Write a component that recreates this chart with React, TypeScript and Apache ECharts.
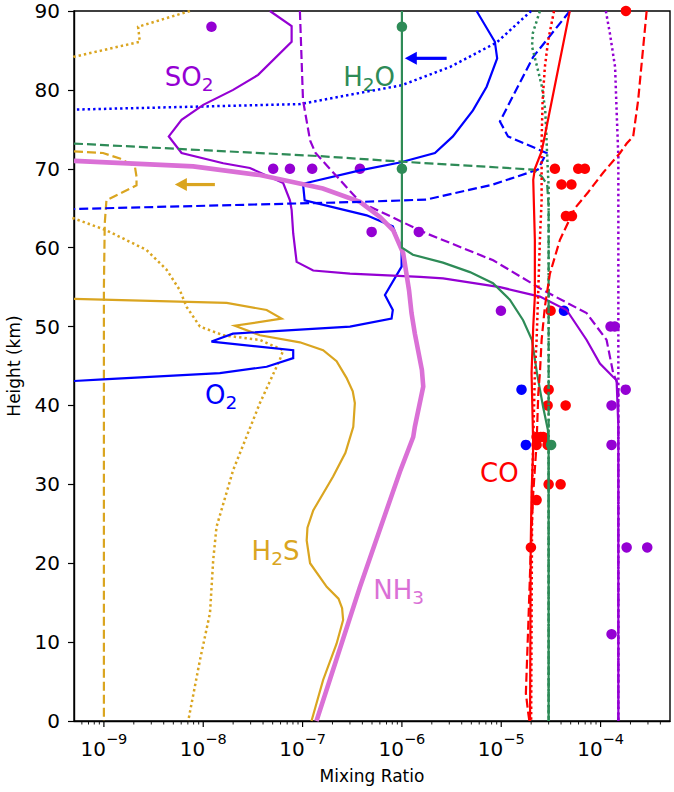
import React, { useEffect, useRef } from "react";
import * as echarts from "echarts";

type Pt = [number, number];

// ---------- data (mixing ratio, height km) ----------
const H2O_SOLID: Pt[] = [[1e-6, 90], [1e-6, 60], [1.29e-6, 59.1], [2.59e-6, 58.1], [4.84e-6, 56.9], [8.26e-6, 55.5], [1.22e-5, 53.4], [1.66e-5, 50.8], [2.04e-5, 48.3], [2.29e-5, 44.1], [2.64e-5, 39.8], [2.95e-5, 36.9], [3.0e-5, 34.7], [3.0e-5, 0]];
const H2O_DASHED: Pt[] = [[5e-10, 73.2], [1.5e-7, 71.6], [1.0e-6, 70.9], [2.09e-5, 69.9], [2.57e-5, 69.0], [2.9e-5, 68.0], [3.0e-5, 65.2], [3.0e-5, 0]];
const H2O_DOTTED: Pt[] = [[2.45e-5, 90], [2.08e-5, 87.2], [2.04e-5, 85.5], [2.29e-5, 83.0], [2.57e-5, 80.4], [2.77e-5, 77.5], [2.84e-5, 74.6], [2.9e-5, 71.6], [3.0e-5, 67.7], [3.0e-5, 0]];
const H2O_OBS: Pt[] = [[1e-6, 88], [1e-6, 70], [3.18e-5, 35]];

const O2_SOLID: Pt[] = [[5.65e-6, 90], [8.63e-6, 86.1], [9.1e-6, 84.0], [7.13e-6, 80.4], [5.19e-6, 77.4], [3.26e-6, 74.1], [2.15e-6, 72.0], [9.55e-7, 70.8], [3.78e-7, 69.8], [1.01e-7, 68.1], [1.05e-7, 66.0], [4.42e-7, 64.1], [8.1e-7, 62.7], [9.93e-7, 59.7], [9.93e-7, 57.6], [6.75e-7, 54.0], [8.1e-7, 52.1], [7.87e-7, 51.0], [3.0e-7, 50.0], [1.99e-8, 49.1], [1.21e-8, 48.1], [8.05e-8, 47.0], [8.05e-8, 46.0], [4.35e-8, 44.9], [1.47e-8, 44.1], [9.8e-10, 43.3], [5e-10, 43.1]];
const O2_DASHED: Pt[] = [[4.91e-5, 90], [2.1e-5, 84.2], [9.7e-6, 76.0], [1.17e-5, 74.1], [2.86e-5, 72.0], [2.34e-5, 69.9], [8.24e-6, 68.0], [1.77e-6, 66.1], [3.78e-7, 65.8], [5e-10, 64.9]];
const O2_DOTTED: Pt[] = [[2.0e-5, 90], [8.97e-6, 86.0], [3.04e-6, 82.9], [1.0e-6, 80.6], [9.4e-8, 78.2], [1.0e-8, 77.9], [5e-10, 77.5]];
const O2_OBS: Pt[] = [[4.28e-5, 52], [1.6e-5, 42], [1.77e-5, 35]];

const CO_SOLID: Pt[] = [[4.9e-5, 90], [2.86e-5, 75.3], [2.55e-5, 72.2], [2.18e-5, 70.0], [2.1e-5, 68.6], [2.18e-5, 61.0], [2.18e-5, 53.8], [2.1e-5, 50.0], [2.02e-5, 44.1], [2.1e-5, 34.8], [2.02e-5, 28.9], [1.98e-5, 22.0], [1.95e-5, 0]];
const CO_DASHED: Pt[] = [[2.91e-4, 90], [2.39e-4, 78.7], [2.13e-4, 74.1], [1.83e-4, 73.2], [1.57e-4, 72.0], [1.06e-4, 69.5], [7.46e-5, 67.0], [5.52e-5, 65.0], [3.9e-5, 61.0], [3.09e-5, 56.7], [2.75e-5, 52.5], [2.55e-5, 48.3], [2.45e-5, 44.1], [2.36e-5, 41.5], [2.27e-5, 35.2], [2.1e-5, 28.9], [1.99e-5, 22.1], [1.87e-5, 12.0], [1.77e-5, 3.5], [1.87e-5, 1.0], [1.92e-5, 0]];
const CO_DOTTED: Pt[] = [[3.4e-5, 90], [2.97e-5, 86.3], [2.75e-5, 82.9], [2.61e-5, 78.7], [2.55e-5, 73.6], [2.55e-5, 66.0], [2.45e-5, 61.0], [2.36e-5, 54.6], [2.27e-5, 48.3], [2.18e-5, 44.1], [2.05e-5, 30], [2.0e-5, 0]];
const CO_OBS: Pt[] = [[1.8e-4, 90], [3.47e-5, 70], [5.96e-5, 70], [6.95e-5, 70], [4.04e-5, 68], [5.09e-5, 68], [4.48e-5, 64], [5.15e-5, 64], [3.14e-5, 52], [3.0e-5, 42], [2.93e-5, 40], [4.45e-5, 40], [2.27e-5, 36], [2.5e-5, 36], [2.65e-5, 36], [2.27e-5, 35], [2.93e-5, 35], [3.0e-5, 30], [3.96e-5, 30], [2.27e-5, 28], [1.99e-5, 22]];

const SO2_SOLID: Pt[] = [[4.69e-8, 90], [7.76e-8, 88.1], [7.76e-8, 86.1], [3.57e-8, 81.9], [2.0e-8, 80.0], [1.0e-8, 78.1], [6.05e-9, 76.2], [4.5e-9, 74.1], [6.05e-9, 72.0], [1.59e-8, 70.7], [2.95e-8, 70.1], [6.38e-8, 68.2], [7.46e-8, 66.0], [7.76e-8, 64.8], [8.05e-8, 61.8], [8.71e-8, 58.2], [1.28e-7, 57.1], [3.0e-7, 56.7], [1.52e-6, 56.3], [2.6e-6, 56.1], [9.7e-6, 55.0], [2.45e-5, 53.8], [4.55e-5, 52.1], [7.24e-5, 48.3], [9.85e-5, 45.3], [1.34e-4, 43.6], [1.45e-4, 43.2], [1.51e-4, 37.3], [1.51e-4, 0]];
const SO2_DASHED: Pt[] = [[9.4e-8, 90], [1.01e-7, 78.7], [1.19e-7, 73.6], [1.35e-7, 72.0], [3.78e-7, 65.8], [1.77e-6, 61.8], [8.3e-6, 58.4], [2.65e-5, 54.6], [7.24e-5, 51.7], [1.15e-4, 48.3], [1.34e-4, 44.1], [1.51e-4, 42.5], [1.51e-4, 0]];
const SO2_DOTTED: Pt[] = [[1.13e-4, 90], [1.24e-4, 87.2], [1.4e-4, 82.9], [1.45e-4, 77.4], [1.51e-4, 71.5], [1.51e-4, 0]];
const SO2_OBS: Pt[] = [[1.21e-8, 88], [5.06e-8, 70], [7.46e-8, 70], [1.25e-7, 70], [3.78e-7, 70], [4.96e-7, 62], [1.48e-6, 62], [9.93e-6, 52], [1.26e-4, 50], [1.39e-4, 50], [1.79e-4, 42], [1.29e-4, 40], [1.29e-4, 35], [1.83e-4, 22], [2.95e-4, 22], [1.29e-4, 11]];

const H2S_SOLID: Pt[] = [[5e-10, 53.5], [1.72e-8, 53.0], [4.35e-8, 52.1], [6.15e-8, 51.0], [2.08e-8, 50.1], [3.72e-8, 48.9], [9.4e-8, 48.0], [1.61e-7, 47.0], [2.2e-7, 45.6], [2.77e-7, 43.5], [3.2e-7, 41.8], [3.36e-7, 40.3], [3.24e-7, 37.3], [2.7e-7, 34.0], [2.03e-7, 31.0], [1.28e-7, 26.7], [1.12e-7, 24.5], [1.1e-7, 22.9], [1.19e-7, 20.0], [1.75e-7, 17.0], [2.3e-7, 15.5], [2.5e-7, 14.3], [2.56e-7, 12.8], [2.2e-7, 9.8], [1.61e-7, 5.2], [1.23e-7, 0]];
const H2S_DASHED: Pt[] = [[5e-10, 72.2], [9.8e-10, 72.0], [1.45e-9, 71.3], [2.05e-9, 70.3], [2.13e-9, 69.0], [2.13e-9, 67.9], [1.06e-9, 66.0], [1.02e-9, 63.1], [1e-9, 55], [1e-9, 0]];
const H2S_DOTTED: Pt[] = [[7.34e-9, 90], [2.21e-9, 88.0], [2.3e-9, 86.1], [5e-10, 84.2], [1e-10, 80], [1e-10, 66], [5e-10, 63.7], [1.06e-9, 62.2], [2.69e-9, 59.7], [4.28e-9, 57.2], [5.82e-9, 54.6], [6.8e-9, 52.5], [9.26e-9, 50.0], [1.59e-8, 48.9], [3.72e-8, 48.3], [6.38e-8, 47.0], [5.9e-8, 45.8], [3.72e-8, 40.3], [2.0e-8, 31.8], [1.36e-8, 24.6], [1.26e-8, 20.4], [1.17e-8, 13.7], [9.26e-9, 7.7], [7.06e-9, 0]];

const NH3_SOLID: Pt[] = [[5e-10, 71.0], [7.93e-9, 70.3], [3.72e-8, 69.2], [1.6e-7, 67.5], [3.78e-7, 65.8], [6.01e-7, 63.9], [8.18e-7, 62.2], [1.03e-6, 59.3], [1.18e-6, 54.6], [1.25e-6, 51.7], [1.35e-6, 49.1], [1.59e-6, 44.5], [1.64e-6, 42.4], [1.35e-6, 37.3], [1.3e-6, 36.0], [9.55e-7, 31.6], [3.78e-7, 17.0], [1.38e-7, 0]];

// arrows: [tail x, height, head x]
const ARROWS: [number, number, number][] = [[2.82e-6, 84, 1.07e-6], [1.31e-8, 68, 5.18e-9]];
const ARROW_COLORS = ["#0000FF", "#DAA520"];

// annotations
const ANNO_MAIN = [["SO", "2", ""], ["H", "2", "O"], ["O", "2", ""], ["H", "2", "S"], ["NH", "3", ""], ["CO", "", ""]];
const ANNO_POS: Pt[] = [[4.1e-9, 81.4], [2.57e-7, 81.4], [1.04e-8, 41.1], [3.07e-8, 21.3], [5.15e-7, 16.4], [6.12e-6, 31.2]];
const ANNO_COLORS = ["#9400D3", "#2E8B57", "#0000FF", "#DAA520", "#DA70D6", "#FF0000"];

// axis
const X_MIN = 5e-10;
const X_MAX = 5e-4;
const DECADES = [1e-10, 1e-9, 1e-8, 1e-7, 1e-6, 1e-5, 1e-4];
const MINOR_MULTS = [2, 3, 4, 5, 6, 7, 8, 9];
const Y_MIN = 0;
const Y_MAX = 90;
const Y_STEP = 10;

const FONT = "DejaVu Sans";
const C = { so2: "#9400D3", h2o: "#2E8B57", o2: "#0000FF", co: "#FF0000", h2s: "#DAA520", nh3: "#DA70D6" };

const DASH = [9, 4];
const DOT = [2.4, 3];

function lineSeries(data: Pt[], color: string, kind: "solid" | "dashed" | "dotted", width = 2.2) {
  return {
    type: "line",
    data,
    symbol: "none",
    silent: true,
    clip: true,
    lineStyle: {
      color,
      width: kind === "dotted" ? 2.5 : width,
      type: kind === "solid" ? "solid" : kind === "dashed" ? DASH : DOT,
      cap: "butt",
      join: "miter",
    },
  };
}

function dots(data: Pt[], color: string) {
  return {
    type: "scatter",
    data,
    symbol: "circle",
    symbolSize: 10.5,
    silent: true,
    itemStyle: { color, opacity: 1 },
  };
}

export default function App() {
  const ref = useRef<HTMLDivElement>(null);
  useEffect(() => {
    if (!ref.current) return;
    const chart = echarts.init(ref.current, null, { renderer: "svg" });

    const tickVals: [number, number][] = [];
    DECADES.forEach((d) => {
      [1, ...MINOR_MULTS].forEach((m) => {
        const v = d * m;
        if (v > X_MIN * 1.0001 && v < X_MAX * 0.9999) tickVals.push([v, 0]);
      });
    });

    const option: any = {
      animation: false,
      backgroundColor: "#ffffff",
      grid: {
        left: 74, right: 4, top: 11, bottom: 71,
        containLabel: false,
        outerBoundsMode: "none",
        show: true, borderColor: "#000", borderWidth: 1.4, backgroundColor: "transparent",
      },
      xAxis: {
        type: "log",
        logBase: 10,
        min: X_MIN,
        max: X_MAX,
        name: "Mixing Ratio",
        nameLocation: "middle",
        nameGap: 46,
        nameTextStyle: { fontFamily: FONT, fontSize: 17, color: "#000" },
        axisLine: { show: true, lineStyle: { color: "#000", width: 1.4 } },
        axisTick: { show: false },
        minorTick: { show: false },
        splitLine: { show: false },
        minorSplitLine: { show: false },
        axisLabel: {
          margin: 10,
          color: "#000",
          fontFamily: FONT,
          formatter: (v: number) => {
            const e = Math.log10(v);
            const r = Math.round(e);
            if (Math.abs(e - r) > 1e-4) return "";
            return `{b|10}{s|\u2212${-r}}`;
          },
          rich: {
            b: { fontFamily: FONT, fontSize: 20, lineHeight: 28, color: "#000", verticalAlign: "bottom" },
            s: { fontFamily: FONT, fontSize: 14.5, lineHeight: 15, color: "#000", verticalAlign: "top" },
          },
        },
      },
      yAxis: {
        type: "value",
        min: Y_MIN,
        max: Y_MAX,
        interval: Y_STEP,
        name: "Height (km)",
        nameLocation: "middle",
        nameGap: 52,
        nameRotate: 90,
        nameTextStyle: { fontFamily: FONT, fontSize: 17, color: "#000" },
        axisLine: { show: true, lineStyle: { color: "#000", width: 1.4 } },
        axisTick: { show: true, inside: false, length: 6, lineStyle: { color: "#000", width: 1.2 } },
        splitLine: { show: false },
        axisLabel: { margin: 14, color: "#000", fontFamily: FONT, fontSize: 20 },
      },
      series: [
        lineSeries(H2S_DOTTED, C.h2s, "dotted"),
        lineSeries(H2S_DASHED, C.h2s, "dashed"),
        lineSeries(H2S_SOLID, C.h2s, "solid"),
        lineSeries(O2_DOTTED, C.o2, "dotted"),
        lineSeries(O2_SOLID, C.o2, "solid"),
        lineSeries(SO2_DOTTED, C.so2, "dotted"),
        lineSeries(SO2_DASHED, C.so2, "dashed"),
        lineSeries(SO2_SOLID, C.so2, "solid"),
        lineSeries(NH3_SOLID, C.nh3, "solid", 4.6),
        lineSeries(O2_DASHED, C.o2, "dashed"),
        lineSeries(H2O_DOTTED, C.h2o, "dotted"),
        lineSeries(H2O_DASHED, C.h2o, "dashed"),
        lineSeries(H2O_SOLID, C.h2o, "solid"),
        lineSeries(CO_DOTTED, C.co, "dotted"),
        lineSeries(CO_DASHED, C.co, "dashed"),
        lineSeries(CO_SOLID, C.co, "solid"),
        dots(SO2_OBS, C.so2),
        dots(CO_OBS, C.co),
        dots(O2_OBS, C.o2),
        dots(H2O_OBS, C.h2o),
        {
          type: "custom",
          silent: true,
          clip: false,
          data: tickVals,
          renderItem: (params: any, api: any) => {
            const v = api.value(0);
            const p = api.coord([v, Y_MIN]);
            const e = Math.log10(v);
            const major = Math.abs(e - Math.round(e)) < 1e-4;
            const len = major ? 6 : 3.5;
            return {
              type: "line",
              shape: { x1: p[0], y1: p[1], x2: p[0], y2: p[1] + len },
              style: { stroke: "#000", lineWidth: major ? 1.2 : 0.9 },
            };
          },
        },
        {
          type: "custom",
          silent: true,
          clip: false,
          data: ARROWS,
          renderItem: (params: any, api: any) => {
            const t = api.coord([api.value(0), api.value(1)]);
            const h = api.coord([api.value(2), api.value(1)]);
            const color = ARROW_COLORS[params.dataIndex];
            const hl = 12;
            const hw = 6.5;
            return {
              type: "group",
              children: [
                { type: "line", shape: { x1: t[0], y1: t[1], x2: h[0] + hl - 1, y2: h[1] }, style: { stroke: color, lineWidth: 3.2 } },
                { type: "polygon", shape: { points: [[h[0], h[1]], [h[0] + hl, h[1] - hw], [h[0] + hl, h[1] + hw]] }, style: { fill: color } },
              ],
            };
          },
        },
        {
          type: "custom",
          silent: true,
          clip: false,
          data: ANNO_POS,
          renderItem: (params: any, api: any) => {
            const p = api.coord([api.value(0), api.value(1)]);
            const [a, s, b] = ANNO_MAIN[params.dataIndex];
            const color = ANNO_COLORS[params.dataIndex];
            let text = `{m|${a}}`;
            if (s) text += `{s|${s}}`;
            if (b) text += `{m|${b}}`;
            return {
              type: "text",
              x: p[0],
              y: p[1],
              style: {
                text,
                align: "left",
                verticalAlign: "middle",
                fill: color,
                rich: {
                  m: { fontFamily: FONT, fontSize: 26, lineHeight: 30, fill: color, verticalAlign: "top" },
                  s: { fontFamily: FONT, fontSize: 18.5, lineHeight: 18, fill: color, verticalAlign: "bottom" },
                },
              },
            };
          },
        },
      ],
    };
    chart.setOption(option);
    return () => chart.dispose();
  }, []);
  return <div ref={ref} style={{ position: "absolute", left: 0, top: 0, width: 674, height: 792 }} />;
}
